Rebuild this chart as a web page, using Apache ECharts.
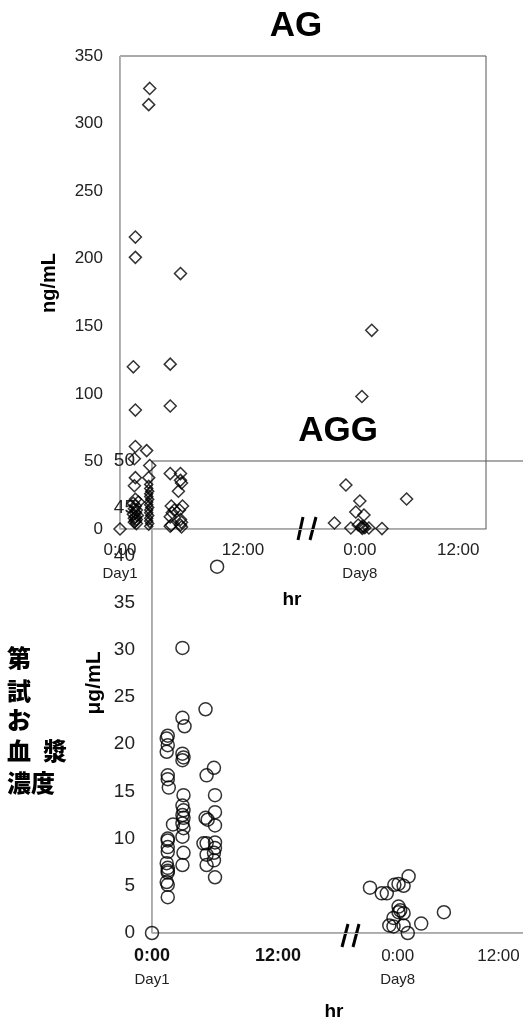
<!DOCTYPE html>
<html>
<head>
<meta charset="utf-8">
<script src="https://cdn.jsdelivr.net/npm/echarts@6/dist/echarts.min.js"></script>
<style>
html,body{margin:0;padding:0;background:#fff;}
#c{width:523px;height:1026px;}
</style>
</head>
<body>
<div id="c"></div>
<script>
// ---- data ----
// AG (ng/mL): [hours after Day1 dose, value]
const agDay1 = [
  [0,0],
  [1.5,216],[1.5,201],[1.3,120],[1.5,88],[1.5,61],[1.4,52],[1.5,38],[1.4,32],[1.5,22],[1.3,19],[1.8,20],
  [1.5,17],[1.4,15],[1.6,14],[1.5,12],[1.3,11],[1.7,10],[1.5,9],[1.4,8],[1.6,7],[1.5,6],[1.4,5],[1.6,4],
  [2.9,326],[2.8,314],[2.6,58],[2.9,47],[2.8,38],
  [4.9,122],[4.9,91],[4.9,41],[5.0,17],[5.1,12],[4.9,9],[5.0,3],[4.9,2],[5.3,14],
  [5.9,189],[5.9,41],[5.9,36],[6.0,34],[5.7,28],[6.1,17],[5.8,14],[5.9,7],[6.0,5],[5.9,3],[6.0,1.5]
];
// AG dense 3h column (small markers)
const agDay1Dense = [
  [2.8,33],[2.8,30],[2.9,28],[2.8,26],[2.8,24],[2.9,22],[2.8,20],[2.8,18],[2.9,16],[2.8,14],
  [2.8,12],[2.9,10],[2.8,8],[2.8,6],[2.9,4],[2.8,2]
];
// AG Day8: [hours relative to Day8 0:00, value]
const agDay8 = [
  [1.45,147],[0.25,98],[-1.7,32.6],[0,20.7],[5.7,22.2],[-0.5,12.6],[0.5,10.4],[-3.1,4.4],[-1.1,0.7],
  [-0.2,3],[0.2,1.5],[0.4,2],[0.6,1],[0.3,0.5],[1.1,0.7],[2.7,0.3]
];
// AGG (µg/mL)
const aggDay1 = [
  [0,0],
  [1.5,20.9],[1.4,20.6],[1.5,19.9],[1.4,19.2],[1.5,16.7],[1.5,16.3],[1.6,15.4],[1.5,10.0],[1.5,9.8],
  [1.5,9.1],[1.5,8.6],[1.4,7.4],[1.5,6.9],[1.5,6.6],[1.5,6.4],[1.4,5.4],[1.5,5.1],[1.5,3.8],
  [2.0,11.5],
  [2.9,30.2],[2.9,22.8],[3.1,21.9],[2.9,19.0],[3.0,18.6],[2.9,18.3],[3.0,14.6],[2.9,13.5],[3.0,13.0],
  [2.9,12.5],[3.0,12.2],[2.9,11.6],[3.0,11.1],[2.9,10.2],[3.0,8.5],[2.9,7.2],
  [5.1,23.7],[5.2,16.7],[5.3,12.0],[5.1,12.2],[5.2,9.5],[4.9,9.5],[5.2,8.3],[5.2,7.2],
  [6.2,38.8],[5.9,17.5],[6.0,14.6],[6.0,12.8],[6.0,11.4],[6.0,9.6],[6.0,9.0],[5.9,8.5],[5.9,7.7],[6.0,5.9]
];
const aggDay8 = [
  [-3.3,4.8],[-1.9,4.2],[-1.3,4.2],[-0.4,5.1],[0.1,5.2],[0.7,5.0],[1.3,6.0],[0.1,2.8],[0.3,2.4],
  [0.1,2.2],[0.7,2.1],[-0.5,1.6],[-1.0,0.8],[-0.5,0.7],[0.7,0.8],[1.2,0],[2.8,1.0],[5.5,2.2]
];
// tick labels
const xTickHours = [0, 12, 0, 12];
const xTickDayIdx = [1, 1, 8, 8];
const xTickText = ['0:00', '12:00', '0:00', '12:00'];
const xTickSub = ['Day1', '', 'Day8', ''];
const agYTicks = [0, 50, 100, 150, 200, 250, 300, 350];
const aggYTicks = [0, 5, 10, 15, 20, 25, 30, 35, 40, 45, 50];

// ---- broken time axis mapping (Day8 segment compressed after the break) ----
const D8_OFFSET = 23.4;
const D8_SCALE = 0.8;
function toAxis(day, h) { return day === 1 ? h : D8_OFFSET + h * D8_SCALE; }
const tickPos = xTickHours.map((h, i) => toAxis(xTickDayIdx[i], h));
function tickIndex(v) { return tickPos.findIndex(p => Math.abs(p - v) < 1e-6); }

const FONT = '"Liberation Sans", Arial, sans-serif';
const CJK = '"Noto Sans CJK JP", sans-serif';

const chart = echarts.init(document.getElementById('c'), null, {renderer: 'canvas'});

const diamondStyle = {color: 'rgba(0,0,0,0)', borderColor: '#000', borderWidth: 1.5};
const circleStyle = {color: 'rgba(0,0,0,0)', borderColor: '#000', borderWidth: 1.5};

const option = {
  backgroundColor: '#fff',
  animation: false,
  grid: [
    {left: 120, top: 56, width: 366, height: 473, show: true, borderColor: '#555', borderWidth: 1, backgroundColor: 'rgba(0,0,0,0)', outerBoundsMode: 'none', containLabel: false},
    {left: 152, top: 461, width: 380, height: 472, show: true, borderColor: '#555', borderWidth: 1, backgroundColor: 'rgba(0,0,0,0)', outerBoundsMode: 'none', containLabel: false}
  ],
  xAxis: [
    {
      type: 'value', gridIndex: 0, min: 0, max: 366 / 10.25,
      splitLine: {show: false}, axisTick: {show: false},
      axisLine: {show: true, lineStyle: {color: '#b4b4b4', width: 1}},
      axisLabel: {
        customValues: tickPos, margin: 9, color: '#222', fontFamily: FONT,
        formatter: function (v) {
          const i = tickIndex(v); if (i < 0) return '';
          return '{a|' + xTickText[i] + '}' + (xTickSub[i] ? '\n{s|' + xTickSub[i] + '}' : '');
        },
        rich: {
          a: {fontSize: 17, lineHeight: 24, fontFamily: FONT, color: '#222'},
          s: {fontSize: 15, lineHeight: 24, fontFamily: FONT, color: '#222'}
        }
      }
    },
    {
      type: 'value', gridIndex: 1, min: 0, max: 380 / 10.5,
      splitLine: {show: false}, axisTick: {show: false},
      axisLine: {show: true, lineStyle: {color: '#b4b4b4', width: 1}},
      axisLabel: {
        customValues: tickPos, margin: 12, color: '#222', fontFamily: FONT,
        formatter: function (v) {
          const i = tickIndex(v); if (i < 0) return '';
          const st = xTickDayIdx[i] === 1 ? 'b' : 'a';
          return '{' + st + '|' + xTickText[i] + '}' + (xTickSub[i] ? '\n{s|' + xTickSub[i] + '}' : '');
        },
        rich: {
          a: {fontSize: 17, lineHeight: 23, fontFamily: FONT, color: '#222'},
          b: {fontSize: 18, lineHeight: 23, fontFamily: FONT, fontWeight: 'bold', color: '#111'},
          s: {fontSize: 15, lineHeight: 23, fontFamily: FONT, color: '#222'}
        }
      }
    }
  ],
  yAxis: [
    {
      type: 'value', gridIndex: 0, min: agYTicks[0], max: agYTicks[agYTicks.length - 1], interval: 50,
      splitLine: {show: false}, axisTick: {show: false},
      axisLine: {show: true, lineStyle: {color: '#b4b4b4', width: 1}},
      axisLabel: {fontSize: 17, margin: 17, color: '#222', fontFamily: FONT}
    },
    {
      type: 'value', gridIndex: 1, min: aggYTicks[0], max: aggYTicks[aggYTicks.length - 1], interval: 5,
      splitLine: {show: false}, axisTick: {show: false},
      axisLine: {show: true, lineStyle: {color: '#b4b4b4', width: 1}},
      axisLabel: {fontSize: 19, margin: 17, color: '#222', fontFamily: FONT}
    }
  ],
  series: [
    {type: 'scatter', xAxisIndex: 0, yAxisIndex: 0, symbol: 'diamond', symbolSize: 12, itemStyle: diamondStyle,
      data: agDay1.map(p => [toAxis(1, p[0]), p[1]])},
    {type: 'scatter', xAxisIndex: 0, yAxisIndex: 0, symbol: 'diamond', symbolSize: 8, itemStyle: diamondStyle,
      data: agDay1Dense.map(p => [toAxis(1, p[0]), p[1]])},
    {type: 'scatter', xAxisIndex: 0, yAxisIndex: 0, symbol: 'diamond', symbolSize: 12, itemStyle: diamondStyle,
      data: agDay8.map(p => [toAxis(8, p[0]), p[1]])},
    {type: 'scatter', xAxisIndex: 1, yAxisIndex: 1, symbol: 'circle', symbolSize: 13, itemStyle: circleStyle,
      data: aggDay1.map(p => [toAxis(1, p[0]), p[1]])},
    {type: 'scatter', xAxisIndex: 1, yAxisIndex: 1, symbol: 'circle', symbolSize: 13, itemStyle: circleStyle,
      data: aggDay8.map(p => [toAxis(8, p[0]), p[1]])}
  ],
  graphic: [
    {type: 'text', x: 296, y: 26, style: {text: 'AG', font: 'bold 35px ' + FONT, fill: '#000', align: 'center', verticalAlign: 'middle'}},
    {type: 'text', x: 338, y: 431, style: {text: 'AGG', font: 'bold 35px ' + FONT, fill: '#000', align: 'center', verticalAlign: 'middle'}},
    {type: 'text', x: 49, y: 283, rotation: Math.PI / 2, style: {text: 'ng/mL', font: 'bold 20px ' + FONT, fill: '#000', align: 'center', verticalAlign: 'middle'}},
    {type: 'text', x: 94, y: 683, rotation: Math.PI / 2, style: {text: 'μg/mL', font: 'bold 21px ' + FONT, fill: '#000', align: 'center', verticalAlign: 'middle'}},
    {type: 'text', x: 292, y: 600, style: {text: 'hr', font: 'bold 19px ' + FONT, fill: '#000', align: 'center', verticalAlign: 'middle'}},
    {type: 'text', x: 334, y: 1012, style: {text: 'hr', font: 'bold 19px ' + FONT, fill: '#000', align: 'center', verticalAlign: 'middle'}},
    // axis break marks
    {type: 'line', shape: {x1: 298, y1: 540, x2: 303, y2: 517}, style: {stroke: '#000', lineWidth: 3}},
    {type: 'line', shape: {x1: 310, y1: 540, x2: 316, y2: 517}, style: {stroke: '#000', lineWidth: 3}},
    {type: 'line', shape: {x1: 342, y1: 947, x2: 348, y2: 924}, style: {stroke: '#000', lineWidth: 3}},
    {type: 'line', shape: {x1: 353, y1: 947, x2: 359, y2: 924}, style: {stroke: '#000', lineWidth: 3}},
    // Japanese label
    {type: 'text', x: 19, y: 658, style: {text: '第', font: '900 24px ' + CJK, fill: '#000', align: 'center', verticalAlign: 'middle'}},
    {type: 'text', x: 19, y: 691, style: {text: '試', font: '900 24px ' + CJK, fill: '#000', align: 'center', verticalAlign: 'middle'}},
    {type: 'text', x: 19, y: 720, style: {text: 'お', font: '900 24px ' + CJK, fill: '#000', align: 'center', verticalAlign: 'middle'}},
    {type: 'text', x: 19, y: 751, style: {text: '血', font: '900 24px ' + CJK, fill: '#000', align: 'center', verticalAlign: 'middle'}},
    {type: 'text', x: 55, y: 751, style: {text: '漿', font: '900 24px ' + CJK, fill: '#000', align: 'center', verticalAlign: 'middle'}},
    {type: 'text', x: 31, y: 783, style: {text: '濃度', font: '900 24px ' + CJK, fill: '#000', align: 'center', verticalAlign: 'middle'}}
  ]
};
chart.setOption(option);
</script>
</body>
</html>
